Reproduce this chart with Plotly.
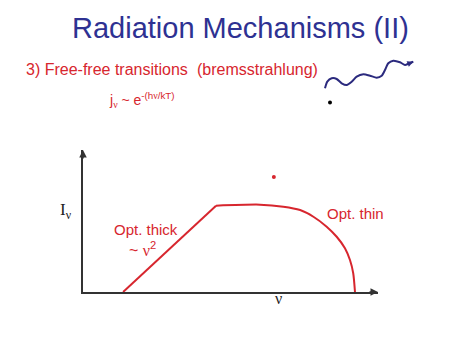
import plotly.graph_objects as go

W, H = 474, 355
FONT = "Liberation Sans, Arial, sans-serif"
SERIF = "font-family:'Liberation Serif','Times New Roman',serif"
RED = "#d7262e"
BLUE = "#2e3192"
NAVY = "#2b2a7e"

# Schematic spectrum I_nu vs nu (axis units 0..10)
thick_nu = [1.36, 4.51]
thick_I = [0.0, 6.08]
thin_nu = [4.51, 6.00, 6.79, 7.36, 7.81, 8.26, 8.60, 8.88, 9.05, 9.16, 9.22]
thin_I = [6.08, 6.15, 6.01, 5.77, 5.30, 4.60, 3.89, 3.08, 2.25, 1.32, 0.0]
dot_nu = [6.47]
dot_I = [8.1]

# Decorative photon wave and electron (page pixel coordinates)
wave_x = [325, 327.3, 331.7, 336.7, 341.7, 346.7, 351.7, 356.7, 363.3, 370, 376.7, 381.7, 385, 388.3, 393.3, 400, 405, 408.3, 413.3]
wave_y = [88.3, 81.7, 78.3, 79, 83.3, 85, 81.7, 76.7, 74.3, 75.7, 77.7, 75.7, 70, 63.3, 60.7, 62.3, 65, 64, 61.7]
electron_x = [330]
electron_y = [102.5]

fig = go.Figure()
fig.add_trace(go.Scatter(x=thick_nu, y=thick_I, mode="lines", line=dict(color=RED, width=2), xaxis="x", yaxis="y"))
fig.add_trace(go.Scatter(x=thin_nu, y=thin_I, mode="lines", line=dict(color=RED, width=2, shape="spline", smoothing=0.7), xaxis="x", yaxis="y"))
fig.add_trace(go.Scatter(x=dot_nu, y=dot_I, mode="markers", marker=dict(color=RED, size=4), xaxis="x", yaxis="y"))
fig.add_trace(go.Scatter(x=wave_x, y=wave_y, mode="lines", line=dict(color=NAVY, width=2, shape="spline", smoothing=0.6), xaxis="x2", yaxis="y2"))
fig.add_trace(go.Scatter(x=electron_x, y=electron_y, mode="markers", marker=dict(color="black", size=4), xaxis="x2", yaxis="y2"))

def txt(x, y, s, size, color, anchor="left"):
    fig.add_annotation(x=x, y=y, xref="x2", yref="y2", text=s, showarrow=False,
                       xanchor=anchor, yanchor="middle", font=dict(family=FONT, size=size, color=color))

nu = f"<span style=\"{SERIF}\">ν</span>"
txt(240, 28, "Radiation Mechanisms (II)", 29, BLUE, "center")
txt(24, 69, "3) Free-free transitions", 16, RED)
txt(195, 69, "(bremsstrahlung)", 16, RED)
txt(107, 100, f"j<sub>{nu}</sub> ~ e<sup>-(h{nu}/kT)</sup>", 14, RED)
txt(58, 211, f"<span style=\"{SERIF}\">I</span><sub>{nu}</sub>", 17, "#222222")
txt(112, 229, "Opt. thick", 15, RED)
txt(127, 249, f"~ <span style=\"{SERIF}\">ν</span><sup>2</sup>", 16, RED)
txt(325, 213, "Opt. thin", 15, RED)
txt(278, 298, nu, 16, "#222222", "center")

# axis arrowheads
fig.add_annotation(x=10, y=0, xref="x", yref="y", ax=-10, ay=0, text="", showarrow=True,
                   arrowhead=2, arrowsize=1, arrowwidth=1.5, arrowcolor="#333333")
fig.add_annotation(x=0, y=10, xref="x", yref="y", ax=0, ay=10, text="", showarrow=True,
                   arrowhead=2, arrowsize=1, arrowwidth=1.5, arrowcolor="#333333")
# photon arrowhead
fig.add_annotation(x=wave_x[-1], y=wave_y[-1], xref="x2", yref="y2", ax=wave_x[-3], ay=wave_y[-3],
                   axref="x2", ayref="y2", text="", showarrow=True,
                   arrowhead=2, arrowsize=0.8, arrowwidth=1.5, arrowcolor=NAVY)

fig.update_layout(
    width=W, height=H, margin=dict(l=0, r=0, t=0, b=0),
    paper_bgcolor="white", plot_bgcolor="rgba(0,0,0,0)", showlegend=False,
    xaxis=dict(domain=[83 / W, 378 / W], range=[0, 10], showline=True, linecolor="#333333", linewidth=2,
               showgrid=False, zeroline=False, showticklabels=False, ticks="", fixedrange=True),
    yaxis=dict(domain=[(H - 292) / H, (H - 150) / H], range=[0, 10], showline=True, linecolor="#333333", linewidth=2,
               showgrid=False, zeroline=False, showticklabels=False, ticks="", fixedrange=True),
    xaxis2=dict(domain=[0, 1], range=[0, W], visible=False, anchor="y2", fixedrange=True),
    yaxis2=dict(domain=[0, 1], range=[H, 0], visible=False, anchor="x2", fixedrange=True),
)

fig.write_html("out.html", config={"displayModeBar": False})
